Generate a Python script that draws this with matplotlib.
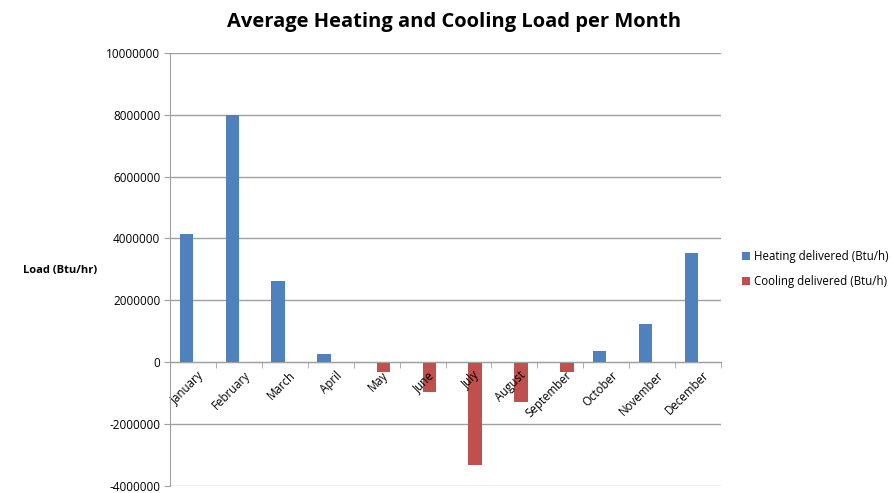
import numpy as np
from matplotlib import pyplot as plt

months = ['January', 'February', 'March', 'April', 'May', 'June', 'July',
          'August', 'September', 'October', 'November', 'December']
heating = [4130000, 8000000, 2630000, 270000, 0, 0, 0, 0, 0, 370000, 1240000, 3540000]
cooling = [0, 0, 0, 0, -330000, -960000, -3320000, -1310000, -330000, 0, 0, 0]
yticks = [-4000000, -2000000, 0, 2000000, 4000000, 6000000, 8000000, 10000000]

plt.rcParams['font.family'] = ['Open Sans', 'DejaVu Sans']

fig = plt.figure(figsize=(8.93, 4.93), dpi=100)
ax = fig.add_axes([170 / 893, 1 - 485.6 / 493, 551 / 893, (485.6 - 53) / 493])

x = np.arange(len(months))
w = 0.29
# bars below the axis artists (zorder 1.5) so month labels are drawn over them
ax.bar(x - w / 2, heating, w, color='#4F81BD', label='Heating delivered (Btu/h)', zorder=1.2)
ax.bar(x + w / 2, cooling, w, color='#C0504D', label='Cooling delivered (Btu/h)', zorder=1.2)

ax.set_xlim(-0.5, 11.5)
ax.set_ylim(-4000000, 10000000)
ax.set_yticks(yticks)
ax.set_yticklabels([str(v) for v in yticks], fontsize=8.5)
for v in yticks:
    ax.axhline(v, color='#A0A0A0', linewidth=1, zorder=0.8)

# category axis sits on the zero line, like Excel
ax.spines['bottom'].set_position(('data', 0))
ax.spines['bottom'].set_color('#A0A0A0')
ax.spines['left'].set_color('#A0A0A0')
ax.spines['top'].set_visible(False)
ax.spines['right'].set_visible(False)

ax.set_xticks(x + 0.1)
ax.set_xticklabels(months, rotation=45, ha='right', va='top', rotation_mode='anchor', fontsize=8.3)
ax.set_xticks(np.arange(-0.5, 12, 1), minor=True)
ax.tick_params(axis='x', which='major', length=0, pad=5)
ax.tick_params(axis='x', which='minor', length=4, color='#A0A0A0', direction='out')
ax.tick_params(axis='y', length=4, color='#A0A0A0', pad=3)

fig.text(0.5 * (228 + 680) / 893, 1 - 22 / 493, 'Average Heating and Cooling Load per Month',
         ha='center', va='center', fontsize=14.5, fontweight='bold')
fig.text(60 / 893, 1 - 270 / 493, 'Load (Btu/hr)', ha='center', va='center',
         fontsize=8, fontweight='bold')

ax.legend(loc='center left', bbox_to_anchor=(732 / 893, 1 - 269 / 493),
          bbox_transform=fig.transFigure, frameon=False, fontsize=8.3,
          handlelength=0.7, handleheight=0.7, handletextpad=0.3, labelspacing=1.0)

plt.savefig('out.png', dpi=100)
